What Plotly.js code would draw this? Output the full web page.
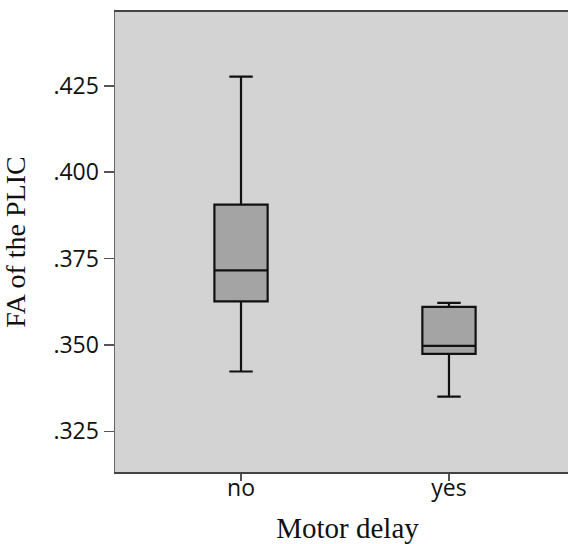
<!DOCTYPE html>
<html>
<head>
<meta charset="utf-8">
<script src="https://cdn.plot.ly/plotly-3.0.1.min.js"></script>
<style>html,body{margin:0;padding:0;background:#fff;overflow:hidden;}#chart{width:580px;height:544px;}</style>
</head>
<body>
<div id="chart"></div>
<script>
var categories = ['no', 'yes'];
var lowerWhisker = [0.3423, 0.3350];
var q1Values = [0.3626, 0.3474];
var medianValues = [0.3716, 0.3497];
var q3Values = [0.3906, 0.3610];
var upperWhisker = [0.4277, 0.3622];
var yTickVals = [0.325, 0.350, 0.375, 0.400, 0.425];
var yTickText = ['.325', '.350', '.375', '.400', '.425'];

var trace = {
  type: 'box',
  x: categories,
  q1: q1Values,
  median: medianValues,
  q3: q3Values,
  lowerfence: lowerWhisker,
  upperfence: upperWhisker,
  width: 0.256,
  whiskerwidth: 0.44,
  fillcolor: '#a4a4a4',
  line: {color: '#111111', width: 2.2},
  boxpoints: false,
  hoverinfo: 'skip'
};

var layout = {
  width: 580,
  height: 544,
  margin: {l: 115, r: 0, t: 12, b: 72},
  paper_bgcolor: '#ffffff',
  plot_bgcolor: '#d3d3d3',
  showlegend: false,
  xaxis: {
    type: 'category',
    range: [-0.606, 1.630],
    showgrid: false,
    zeroline: false,
    showline: true,
    linecolor: '#444444',
    linewidth: 2,
    mirror: true,
    ticks: 'outside',
    ticklen: 7,
    tickwidth: 1.5,
    tickcolor: '#555555',
    ticklabelstandoff: -13,
    tickfont: {family: 'Open Sans', size: 23, color: '#111111'},
    title: {text: 'Motor delay', font: {family: 'Liberation Serif', size: 29, color: '#111111'}, standoff: 27},
    automargin: false
  },
  yaxis: {
    range: [0.3132, 0.4464],
    tickvals: yTickVals,
    ticktext: yTickText,
    showgrid: false,
    zeroline: false,
    showline: true,
    linecolor: '#666666',
    linewidth: 1.5,
    ticks: 'outside',
    ticklen: 10,
    tickwidth: 1.5,
    tickcolor: '#555555',
    tickfont: {family: 'Open Sans', size: 23, color: '#111111'},
    title: {text: 'FA of the PLIC', font: {family: 'Liberation Serif', size: 28, color: '#111111'}, standoff: 20},
    automargin: false
  }
};

Plotly.newPlot('chart', [trace], layout, {displayModeBar: false, staticPlot: true});
</script>
</body>
</html>
